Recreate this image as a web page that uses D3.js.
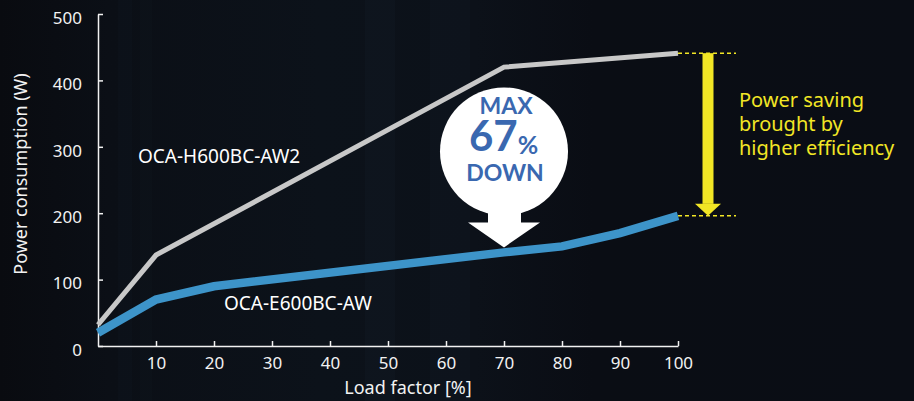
<!DOCTYPE html>
<html>
<head>
<meta charset="utf-8">
<script src="https://cdn.jsdelivr.net/npm/d3@7"></script>
<style>
  body { margin:0; background:#0a0d14; }
  svg { display:block; font-family:"Noto Sans", sans-serif; }
  .axis path, .axis line { stroke:#f2f2f2; stroke-width:1.5; }
  .axis text { fill:#f2f2f2; font-size:17px; font-family:"Noto Sans", sans-serif; }
</style>
</head>
<body>
<svg></svg>
<script>
// data
var greyLoad   = [0, 10, 70, 100]
var greyPower  = [32, 137, 420, 441]
var blueLoad   = [0, 10, 20, 70, 80, 90, 100]
var bluePower  = [20, 70, 90, 141, 150, 170, 196]
var xTicks     = [10, 20, 30, 40, 50, 60, 70, 80, 90, 100]
var yTicks     = [0, 100, 200, 300, 400, 500]
var greyName   = "OCA-H600BC-AW2"
var blueName   = "OCA-E600BC-AW"
var savingText = ["Power saving", "brought by", "higher efficiency"]

var screen = {width:914, height:401}
var margins = {top:14, right:236, bottom:55, left:98}

var width = screen.width - margins.left - margins.right;
var height = screen.height - margins.top - margins.bottom;

var svg = d3.select("svg")
    .attr("width", screen.width)
    .attr("height", screen.height);

// background
var defs = svg.append("defs");
var grad = defs.append("linearGradient").attr("id","bg");
grad.append("stop").attr("offset","0%").attr("stop-color","#090b10");
grad.append("stop").attr("offset","12%").attr("stop-color","#0b0f16");
grad.append("stop").attr("offset","35%").attr("stop-color","#0c121a");
grad.append("stop").attr("offset","52%").attr("stop-color","#0c1119");
grad.append("stop").attr("offset","65%").attr("stop-color","#0a0d14");
grad.append("stop").attr("offset","100%").attr("stop-color","#0a0d15");
svg.append("rect").attr("width",screen.width).attr("height",screen.height).attr("fill","url(#bg)");

var strips = [[118,14,0.02],[365,30,0.025],[430,40,0.02],[140,12,0.015]]
svg.selectAll(".strip").data(strips).enter().append("rect")
    .attr("x", function(d){ return d[0] })
    .attr("width", function(d){ return d[1] })
    .attr("y",0).attr("height",screen.height)
    .attr("fill","#6fa0c0")
    .attr("opacity", function(d){ return d[2] });

var g = svg.append("g")
    .attr("id","graph")
    .attr("transform","translate("+margins.left+","+margins.top+")");

var xScale = d3.scaleLinear().domain([0,100]).range([0,width]);
var yScale = d3.scaleLinear().domain([0,500]).range([height,0]);

var xAxis = d3.axisBottom(xScale).tickValues(xTicks).tickSize(-5).tickPadding(11).tickSizeOuter(0);
var yAxis = d3.axisLeft(yScale).tickValues(yTicks).tickSize(-5).tickPadding(16).tickSizeOuter(0);

g.append("g").attr("class","axis").attr("transform","translate(0,"+height+")").call(xAxis);
var ya = g.append("g").attr("class","axis").call(yAxis);
ya.selectAll("text").attr("dy","0.55em");

// axis titles
g.append("text")
    .attr("x", 310).attr("y", height+48)
    .attr("text-anchor","middle")
    .attr("fill","#f2f2f2").attr("font-size",18)
    .text("Load factor [%]");
g.append("text")
    .attr("transform","translate("+(27-margins.left)+","+(174-margins.top)+") rotate(-90)")
    .attr("text-anchor","middle")
    .attr("fill","#f2f2f2").attr("font-size",18)
    .text("Power consumption (W)");

var line = d3.line()
    .x(function(d){ return xScale(d[0]) })
    .y(function(d){ return yScale(d[1]) });

g.append("path")
    .datum(d3.zip(greyLoad, greyPower))
    .attr("d", line)
    .attr("fill","none").attr("stroke","#c8c8c8").attr("stroke-width",5);
g.append("path")
    .datum(d3.zip(blueLoad, bluePower))
    .attr("d", line)
    .attr("fill","none").attr("stroke","#3d94c9").attr("stroke-width",8.5);

// series labels
g.append("text").attr("x",40).attr("y",149).attr("fill","#ffffff").attr("font-size",19).text(greyName);
g.append("text").attr("x",126).attr("y",296).attr("fill","#ffffff").attr("font-size",19).text(blueName);

// yellow saving arrow
var gEnd = greyPower[greyPower.length-1], bEnd = bluePower[bluePower.length-1];
var yellow = "#f2e625";
[gEnd, bEnd].forEach(function(v){
    g.append("line")
        .attr("x1", xScale(100)).attr("x2", xScale(100)+58)
        .attr("y1", yScale(v)).attr("y2", yScale(v))
        .attr("stroke", yellow).attr("stroke-width",1.5)
        .attr("stroke-dasharray","4,3");
});
var ax = xScale(100)+30;
g.append("rect")
    .attr("x", ax-5.5).attr("width", 11)
    .attr("y", yScale(gEnd)).attr("height", yScale(bEnd)-12-yScale(gEnd))
    .attr("fill", yellow);
g.append("path")
    .attr("d", "M"+(ax-13)+","+(yScale(bEnd)-12)+" L"+(ax+13)+","+(yScale(bEnd)-12)+" L"+ax+","+yScale(bEnd)+" Z")
    .attr("fill", yellow);
g.selectAll(".saving").data(savingText).enter().append("text")
    .attr("x", ax+31)
    .attr("y", function(d,i){ return 93 + i*24 })
    .attr("fill", yellow).attr("font-size",20)
    .text(function(d){ return d });

// MAX 67% DOWN callout
var tipX = xScale(70), tipY = yScale(bluePower[3]) - 5;
var call = g.append("g").attr("transform","translate("+tipX+","+tipY+")");
call.append("circle").attr("cx",0).attr("cy",-96).attr("r",64).attr("fill","#ffffff");
call.append("path")
    .attr("d","M-16,-60 L17,-60 L17,-25 L36,-25 L0,0 L-36,-25 L-16,-25 Z")
    .attr("fill","#ffffff");
var blue2 = "#3a68b0";
call.append("text").attr("x",2).attr("y",-133).attr("text-anchor","middle")
    .attr("font-family","Lato, sans-serif").attr("font-weight","bold").attr("font-size",23)
    .attr("fill",blue2).text("MAX");
call.append("text").attr("x",-35).attr("y",-96)
    .attr("font-family","Lato, sans-serif").attr("font-weight","bold").attr("font-size",42)
    .attr("fill",blue2).text("67")
  .append("tspan").attr("font-size",25).attr("dy",3).text("%");
call.append("text").attr("x",1).attr("y",-66).attr("text-anchor","middle")
    .attr("font-family","Lato, sans-serif").attr("font-weight","bold").attr("font-size",23)
    .attr("fill",blue2).text("DOWN");
</script>
</body>
</html>
